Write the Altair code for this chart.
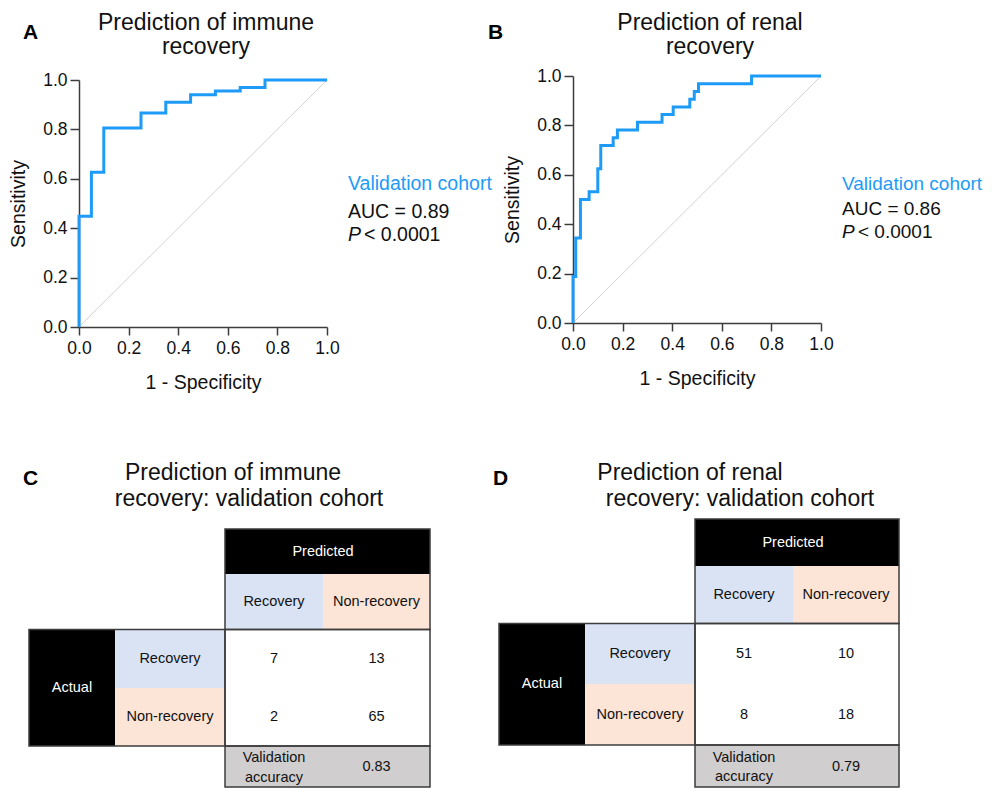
import altair as alt
import pandas as pd

FONT = "Liberation Sans"
BLUE = "#1e9bf7"
CELL_BLUE = "#dae3f3"
CELL_PEACH = "#fce4d6"
CELL_GRAY = "#d0cece"
BORDER = "#3c3c3c"
W, H = 976, 780

# ---------------- data ----------------
tick_values = [0.0, 0.2, 0.4, 0.6, 0.8, 1.0]

# ROC step curve vertices (1 - specificity, sensitivity)
fpr_immune = [0, 0, 0.05, 0.05, 0.10, 0.10, 0.25, 0.25, 0.35, 0.35, 0.45, 0.45,
              0.55, 0.55, 0.65, 0.65, 0.75, 0.75, 1.0]
tpr_immune = [0, 0.448, 0.448, 0.627, 0.627, 0.806, 0.806, 0.866, 0.866, 0.910, 0.910,
              0.940, 0.940, 0.955, 0.955, 0.970, 0.970, 1.0, 1.0]

fpr_renal = [0, 0, 0.011, 0.011, 0.030, 0.030, 0.065, 0.065, 0.100, 0.100, 0.112, 0.112,
             0.162, 0.162, 0.179, 0.179, 0.260, 0.260, 0.359, 0.359, 0.404, 0.404,
             0.471, 0.471, 0.489, 0.489, 0.506, 0.506, 0.72, 0.72, 1.0]
tpr_renal = [0, 0.188, 0.188, 0.344, 0.344, 0.5, 0.5, 0.531, 0.531, 0.625, 0.625,
             0.719, 0.719, 0.75, 0.75, 0.781, 0.781, 0.8125, 0.8125, 0.844, 0.844,
             0.875, 0.875, 0.906, 0.906, 0.9375, 0.9375, 0.969, 0.969, 1.0, 1.0]

auc_immune = 0.89
auc_renal = 0.86
p_value_text = "< 0.0001"
cohort_label = "Validation cohort"

panel_letters = ["A", "B", "C", "D"]
roc_titles = ["Prediction of immune\nrecovery", "Prediction of renal\nrecovery"]
table_titles = [["Prediction of immune", "recovery: validation cohort"],
                ["Prediction of renal", "recovery: validation cohort"]]

class_labels = ["Recovery", "Non-recovery"]
accuracy_label = ["Validation", "accuracy"]
cm_immune = [[7, 13], [2, 65]]
cm_renal = [[51, 10], [8, 18]]
acc_immune = 0.83
acc_renal = 0.79


# ---------------- helpers ----------------
def text_mark(text, x, y, size, align="left", color="#111111", weight="normal",
              style="normal", line_height=None):
    kw = dict(align=align, baseline="alphabetic", fontSize=size, font=FONT,
              color=color, fontWeight=weight, fontStyle=style, lineBreak="\n")
    if line_height is not None:
        kw["lineHeight"] = line_height
    return alt.Chart(pd.DataFrame({"t": [text]})).mark_text(**kw).encode(
        text="t:N", x=alt.value(x), y=alt.value(y))


def roc_panel(fpr, tpr, xr, yr):
    xs = alt.Scale(domain=[0, 1], range=xr, nice=False, zero=False)
    ys = alt.Scale(domain=[0, 1], range=yr, nice=False, zero=False)
    diag = alt.Chart(pd.DataFrame({"fpr": [0, 1], "tpr": [0, 1]})).mark_line(
        color="#d2d2d2", strokeWidth=1).encode(
        x=alt.X("fpr:Q", scale=xs, axis=None),
        y=alt.Y("tpr:Q", scale=ys, axis=None))
    df = pd.DataFrame({"fpr": fpr, "tpr": tpr, "i": list(range(len(fpr)))})
    curve = alt.Chart(df).mark_line(color=BLUE, strokeWidth=3).encode(
        x=alt.X("fpr:Q", scale=xs,
                axis=alt.Axis(orient="bottom", offset=yr[0] - H, values=tick_values,
                              format=".1f", title="1 - Specificity", tickSize=8,
                              labelPadding=4, titlePadding=17, labelFlush=False)),
        y=alt.Y("tpr:Q", scale=ys,
                axis=alt.Axis(orient="left", offset=-xr[0], values=tick_values,
                              format=".1f", title="Sensitivity", tickSize=9,
                              labelPadding=3, titlePadding=14)),
        order="i:Q")
    return [diag, curve]


def table_panel(cm, acc, xedges, yedges):
    xs = alt.Scale(domain=[0, 1, 2, 3, 4], range=xedges, nice=False, zero=False)
    ys = alt.Scale(domain=[0, 1, 2, 3, 4, 5], range=yedges, nice=False, zero=False)
    cells = pd.DataFrame({
        "c0": [2, 2, 3, 0, 1, 1, 2],
        "c1": [4, 3, 4, 1, 2, 2, 4],
        "r0": [0, 1, 1, 2, 2, 3, 4],
        "r1": [1, 2, 2, 4, 3, 4, 5],
        "fill": ["#000000", CELL_BLUE, CELL_PEACH, "#000000", CELL_BLUE, CELL_PEACH, CELL_GRAY],
    })
    blocks = pd.DataFrame({
        "c0": [2, 0, 2, 2], "c1": [4, 2, 4, 4],
        "r0": [0, 2, 2, 4], "r1": [2, 4, 4, 5],
    })
    labels, xc, yc, tc = [], [], [], []

    def add(t, x, y, c="#111111"):
        labels.append(t); xc.append(x); yc.append(y); tc.append(c)

    add("Predicted", 3, 0.5, "#ffffff")
    add(class_labels[0], 2.5, 1.5)
    add(class_labels[1], 3.5, 1.5)
    add("Actual", 0.5, 3, "#ffffff")
    add(class_labels[0], 1.5, 2.5)
    add(class_labels[1], 1.5, 3.5)
    for i in range(2):
        for j in range(2):
            add(str(cm[i][j]), 2.5 + j, 2.5 + i)
    # two-line label in the (partly cropped) accuracy row
    add(accuracy_label[0], 2.5, 4.3)
    add(accuracy_label[1], 2.5, 4.77)
    add(f"{acc:.2f}", 3.5, 4.52)
    tdf = pd.DataFrame({"label": labels, "xc": xc, "yc": yc, "tc": tc})

    rects = alt.Chart(cells).mark_rect().encode(
        x=alt.X("c0:Q", scale=xs, axis=None), x2="c1:Q",
        y=alt.Y("r0:Q", scale=ys, axis=None), y2="r1:Q",
        color=alt.Color("fill:N", scale=None))
    outline = alt.Chart(blocks).mark_rect(fillOpacity=0, stroke=BORDER, strokeWidth=1.5).encode(
        x=alt.X("c0:Q", scale=xs, axis=None), x2="c1:Q",
        y=alt.Y("r0:Q", scale=ys, axis=None), y2="r1:Q")
    txt = alt.Chart(tdf).mark_text(font=FONT, fontSize=14.5,
                                   baseline="middle", align="center").encode(
        x=alt.X("xc:Q", scale=xs, axis=None),
        y=alt.Y("yc:Q", scale=ys, axis=None),
        text="label:N",
        color=alt.Color("tc:N", scale=None))
    return [rects, outline, txt]


layers = []
# Panel A
layers += roc_panel(fpr_immune, tpr_immune, [71, 319], [319, 72])
# Panel B
layers += roc_panel(fpr_renal, tpr_renal, [565, 813], [315, 68])
# Tables
layers += table_panel(cm_immune, acc_immune, [21, 107, 217, 315, 422],
                      [521, 566, 621.5, 680, 738, 779])
layers += table_panel(cm_renal, acc_renal, [491, 577, 687, 785, 891],
                      [511, 558, 615.5, 676, 737, 779])

# Titles and letters
layers += [
    text_mark(panel_letters[0], 15, 31, 21, weight="bold", color="#000000"),
    text_mark(panel_letters[1], 480, 31, 21, weight="bold", color="#000000"),
    text_mark(panel_letters[2], 15, 477, 21, weight="bold", color="#000000"),
    text_mark(panel_letters[3], 485, 477, 21, weight="bold", color="#000000"),
    text_mark(roc_titles[0], 198, 22, 23, align="center", line_height=24),
    text_mark(roc_titles[1], 702, 21.5, 23, align="center", line_height=24),
    text_mark(table_titles[0][0], 225, 472, 23, align="center"),
    text_mark(table_titles[0][1], 241, 498, 23, align="center"),
    text_mark(table_titles[1][0], 682, 472, 23, align="center"),
    text_mark(table_titles[1][1], 732, 498, 23, align="center"),
]

# Legend texts
for x0, ys_, auc, fs in [(340, (182, 210, 233), auc_immune, 19.5),
                         (834, (182, 207, 230), auc_renal, 19)]:
    layers += [
        text_mark(cohort_label, x0, ys_[0], fs, color=BLUE),
        text_mark(f"AUC = {auc:.2f}", x0, ys_[1], fs),
        text_mark("P", x0, ys_[2], fs, style="italic"),
        text_mark(p_value_text, x0 + 16, ys_[2], fs),
    ]

chart = alt.layer(*layers).resolve_scale(
    x="independent", y="independent"
).properties(
    width=W, height=H, autosize=alt.AutoSizeParams(type="none"), padding=0
).configure_view(
    stroke="transparent"
).configure_axis(
    labelFont=FONT, labelFontSize=17.5, labelColor="#111111",
    titleFont=FONT, titleFontSize=19.5, titleFontWeight="normal", titleColor="#111111",
    domainColor=BORDER, tickColor=BORDER, domainWidth=1.5, tickWidth=1.5, grid=False
)

chart.save("out.html", embed_options={"renderer": "svg", "actions": False})
